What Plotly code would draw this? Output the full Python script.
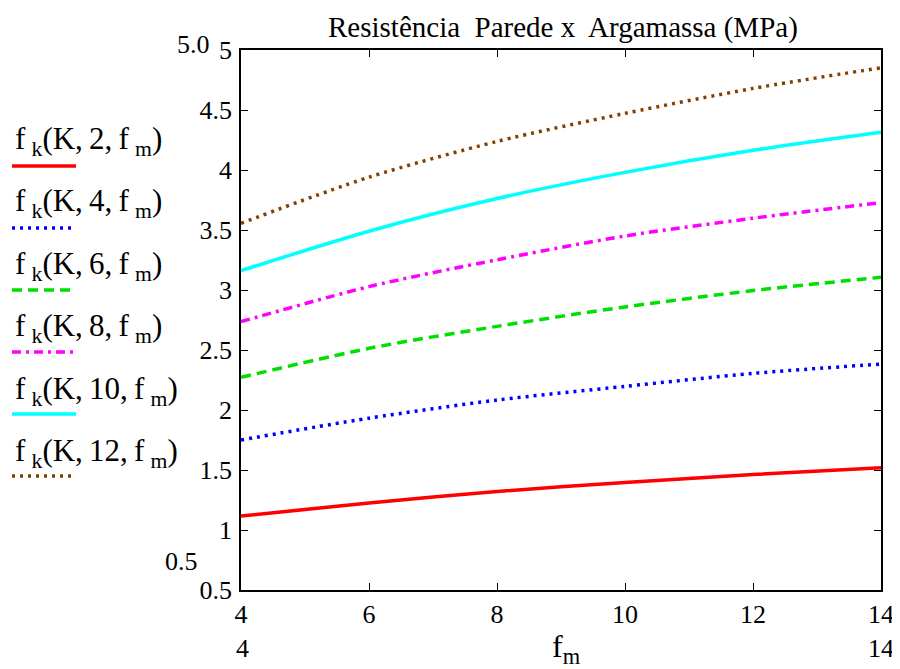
import plotly.graph_objects as go

fm = [4, 6, 8, 10, 12, 14]
K_values = [2, 4, 6, 8, 10, 12]
fk_2 = [1.117, 1.225, 1.321, 1.395, 1.462, 1.519]
fk_4 = [1.750, 1.932, 2.083, 2.197, 2.305, 2.383]
fk_6 = [2.272, 2.514, 2.697, 2.859, 2.995, 3.106]
fk_8 = [2.736, 3.028, 3.252, 3.450, 3.598, 3.728]
fk_10 = [3.161, 3.490, 3.762, 3.980, 4.164, 4.314]
fk_12 = [3.556, 3.940, 4.238, 4.472, 4.680, 4.852]
y_ticks = [0.5, 1, 1.5, 2, 2.5, 3, 3.5, 4, 4.5, 5]
x_ticks = [4, 6, 8, 10, 12, 14]

series = [fk_2, fk_4, fk_6, fk_8, fk_10, fk_12]
colors = ["#FF0000", "#0000FF", "#00E000", "#FF00FF", "#00FFFF", "#804000"]
dashes = ["solid", "3px,5px", "10px,6px", "9px,5px,3px,5px", "solid", "3px,5px"]

SERIF = "Liberation Serif"
TICK = 26

fig = go.Figure()
for k, ys, c, d in zip(K_values, series, colors, dashes):
    fig.add_trace(go.Scatter(x=fm, y=ys, mode="lines",
                             line=dict(color=c, dash=d, width=3.5, shape="spline", smoothing=0.8),
                             name=f"K={k}", showlegend=False))

# page body has an 8px margin: figure size reduced so it fits the 900x669 window
W, H = 892, 661
L, R, T, B = 233, 19, 42, 79

fig.update_layout(
    width=W, height=H,
    margin=dict(l=L, r=R, t=T, b=B, autoexpand=False),
    paper_bgcolor="white", plot_bgcolor="white",
    font=dict(family=SERIF, color="black", size=TICK),
    showlegend=False,
)
axis_common = dict(showgrid=False, zeroline=False, showline=True, linecolor="black", linewidth=1.5,
                   mirror="ticks", ticks="inside", ticklen=7, tickcolor="black", tickwidth=1,
                   tickfont=dict(family=SERIF, size=TICK, color="black"))
fig.update_xaxes(range=[4, 14], tickvals=x_ticks, ticktext=[str(v) for v in x_ticks],
                 ticklabelstandoff=0, **axis_common)
fig.update_yaxes(range=[0.5, 5], tickvals=y_ticks, ticktext=[("%g" % v) for v in y_ticks],
                 ticklabelstandoff=2, **axis_common)

# convert screen-pixel positions of the reference to plot-area paper coordinates
def px(xs):
    return (xs - 241) / 640.0

def py(ys):
    return (590 - ys) / 540.0

ann = []
ann.append(dict(text="Resistência\u00a0 Parede x\u00a0 Argamassa (MPa)", x=px(563), y=py(27), xref="paper", yref="paper",
                showarrow=False, font=dict(family=SERIF, size=29), xanchor="center", yanchor="middle"))
ann.append(dict(text="f<sub>m</sub>", x=px(566), y=py(648), xref="paper", yref="paper",
                showarrow=False, font=dict(family=SERIF, size=32), xanchor="center", yanchor="middle"))
ann.append(dict(text="5.0", x=px(193), y=py(45), xref="paper", yref="paper", showarrow=False,
                font=dict(family=SERIF, size=TICK), xanchor="center", yanchor="middle"))
ann.append(dict(text="0.5", x=px(181), y=py(561), xref="paper", yref="paper", showarrow=False,
                font=dict(family=SERIF, size=TICK), xanchor="center", yanchor="middle"))
ann.append(dict(text="4", x=px(242), y=py(648), xref="paper", yref="paper", showarrow=False,
                font=dict(family=SERIF, size=TICK), xanchor="center", yanchor="middle"))
ann.append(dict(text="14", x=px(881), y=py(648), xref="paper", yref="paper", showarrow=False,
                font=dict(family=SERIF, size=TICK), xanchor="center", yanchor="middle"))

shapes = []
text_y = [141, 203, 266, 328, 391, 453]
samp_y = [166, 228, 290, 352, 414, 476]
for k, c, d, ty, sy in zip(K_values, colors, dashes, text_y, samp_y):
    ann.append(dict(text=f"f\u2009<sub>k</sub>(K,\u2009{k},\u2009f\u2009<sub>m</sub>)", x=px(13), y=py(ty),
                    xref="paper", yref="paper",
                    showarrow=False, font=dict(family=SERIF, size=31), xanchor="left", yanchor="middle"))
    shapes.append(dict(type="line", xref="paper", yref="paper", x0=px(12), x1=px(76), y0=py(sy), y1=py(sy),
                       line=dict(color=c, dash=d, width=3.5)))

fig.update_layout(annotations=ann, shapes=shapes)
fig.write_html("out.html")
